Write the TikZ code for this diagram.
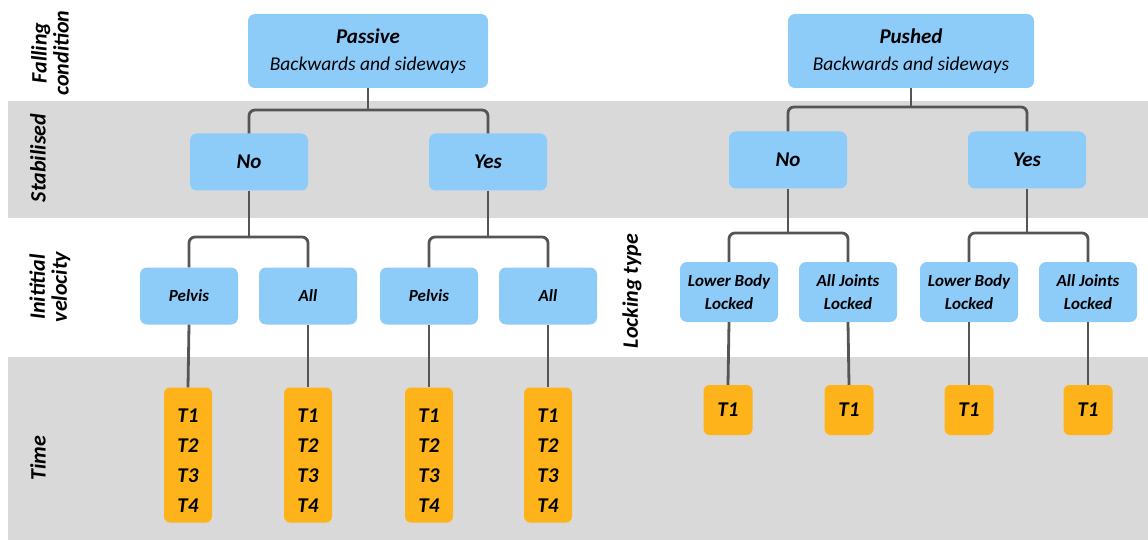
\documentclass[tikz,border=0pt]{standalone}
\usepackage{fontspec}
\setmainfont{Carlito}
\usetikzlibrary{positioning}
\definecolor{boxblue}{HTML}{8DCBF9}
\definecolor{boxorange}{HTML}{FFB31A}
\definecolor{bandgray}{HTML}{D9D9D9}
\definecolor{wire}{HTML}{555555}

\begin{document}
\begin{tikzpicture}[x=1pt,y=-1pt,
  cond/.style={fill=boxblue,rounded corners=7pt,inner sep=0pt,align=center},
  tbox/.style={fill=boxorange,rounded corners=6pt,inner sep=0pt,align=center,
    font=\fontsize{21}{30}\selectfont\bfseries\itshape},
  rowlab/.style={rotate=90,align=center,font=\fontsize{22}{22}\selectfont\bfseries\itshape},
  conn/.style={draw=wire,line width=2.8pt,rounded corners=6pt}]
\useasboundingbox (0,0) rectangle (1148,540);
% bands
\fill[bandgray] (8,101) rectangle (1148,218);
\fill[bandgray] (8,357) rectangle (1148,540);
\node[rowlab] (lfall) at (50,53) {Falling\\condition};
\node[rowlab] (lstab) at (38,158) {Stabilised};
\node[rowlab] (lvel) at (50,287) {Inititial\\velocity};
\node[rowlab] (ltime) at (38,458) {Time};
\node[rowlab] (llock) at (632,291) {Locking type};
% top level
\node[cond,minimum width=240pt,minimum height=74pt,font=\fontsize{19.5}{27}\selectfont\itshape] (pas) at (368,51)
  {{\fontsize{21}{27}\selectfont\bfseries Passive}\\Backwards and sideways};
\node[cond,minimum width=246pt,minimum height=74pt,font=\fontsize{19.5}{27}\selectfont\itshape] (pus) at (911,51)
  {{\fontsize{21}{27}\selectfont\bfseries Pushed}\\Backwards and sideways};
% stabilised
\foreach \n/\x/\y/\t in {no1/249/162/No,yes1/488/162/Yes,no2/788/160/No,yes2/1027/160/Yes}
  \node[cond,minimum width=118pt,minimum height=57pt,font=\fontsize{21}{24}\selectfont\bfseries\itshape] (\n) at (\x,\y) {\t};
% initial velocity
\foreach \n/\x/\t in {pel1/189/Pelvis,all1/308/All,pel2/429/Pelvis,all2/548/All}
  \node[cond,minimum width=98pt,minimum height=57pt,font=\fontsize{17}{20}\selectfont\bfseries\itshape] (\n) at (\x,296) {\t};
% locking type
\foreach \n/\x/\t in {lb1/729/Lower Body\\Locked,aj1/848/All Joints\\Locked,lb2/969/Lower Body\\Locked,aj2/1088/All Joints\\Locked}
  \node[cond,minimum width=98pt,minimum height=60pt,font=\fontsize{17}{23}\selectfont\bfseries\itshape] (\n) at (\x,292) {\t};
% time
\foreach \n/\x in {t1/188,t2/308,t3/429,t4/548}
  \node[tbox,minimum width=48pt,minimum height=135pt] (\n) at (\x,455) {\rule{0pt}{24pt}T1\\T2\\T3\\T4};
\foreach \n/\x in {s1/728,s2/849,s3/969,s4/1088}
  \node[tbox,minimum width=49pt,minimum height=50pt] (\n) at (\x,410) {T1};
% connectors
\coordinate (b1) at (368,110);
\coordinate (b2) at (249,237);
\coordinate (b3) at (488,237);
\coordinate (b4) at (911,107);
\coordinate (b5) at (788,233);
\coordinate (b6) at (1027,233);
\draw[conn] (pas.south) -- (b1);
\draw[conn] (no1.north) |- (b1) -| (yes1.north);
\draw[conn] (no1.south) -- (b2);
\draw[conn] (pel1.north) |- (b2) -| (all1.north);
\draw[conn] (yes1.south) -- (b3);
\draw[conn] (pel2.north) |- (b3) -| (all2.north);
\draw[conn] (pus.south) -- (b4);
\draw[conn] (no2.north) |- (b4) -| (yes2.north);
\draw[conn] (no2.south) -- (b5);
\draw[conn] (lb1.north) |- (b5) -| (aj1.north);
\draw[conn] (yes2.south) -- (b6);
\draw[conn] (lb2.north) |- (b6) -| (aj2.north);
\foreach \a/\b in {pel1/t1,all1/t2,pel2/t3,all2/t4,lb1/s1,aj1/s2,lb2/s3,aj2/s4}
  \draw[conn] (\a.south) -- (\b.north);
\end{tikzpicture}
\end{document}
